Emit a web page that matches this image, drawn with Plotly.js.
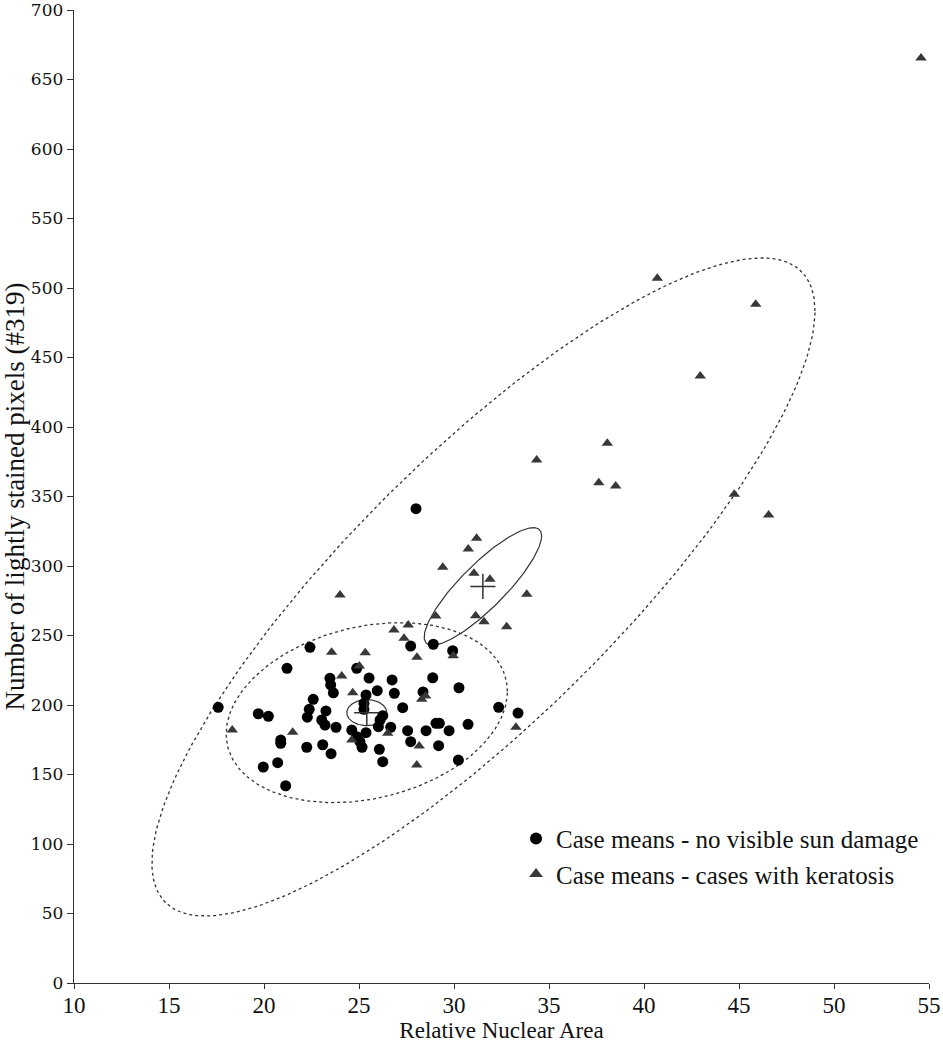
<!DOCTYPE html>
<html>
<head>
<meta charset="utf-8">
<script src="https://cdn.plot.ly/plotly-3.0.1.min.js"></script>
<style>
  html, body { margin: 0; padding: 0; background: #fff; }
  #myDiv { width: 943px; height: 1050px; }
</style>
</head>
<body>
<div id="myDiv"></div>
<script>
// Case means - no visible sun damage (relative nuclear area, lightly stained pixels)
const normalX = [22.42, 21.21, 24.88, 23.47, 25.53, 26.74, 23.51, 23.65, 25.96, 26.86,
                 25.37, 28.88, 30.26, 28.37, 22.59, 25.26, 25.26, 17.59, 19.70, 20.23,
                 22.38, 22.28, 23.26, 23.04, 23.21, 23.79, 27.30, 26.25, 26.11, 26.02,
                 26.67, 24.62, 25.37, 24.88, 25.05, 25.16, 27.56, 28.53, 29.05, 29.23,
                 29.74, 30.74, 32.35, 20.88, 20.88, 22.25, 23.09, 23.53, 27.72, 29.19,
                 26.07, 26.25, 30.23, 19.96, 20.72, 21.14, 27.72, 28.91, 29.93, 33.37,
                 28.00];
const normalY = [241.5, 226.4, 226.4, 219.2, 219.4, 218.0, 214.4, 208.8, 210.3, 208.4,
                 207.2, 219.6, 212.4, 209.4, 204.1, 201.2, 196.9, 198.3, 193.7, 191.9,
                 196.9, 191.2, 195.7, 189.2, 185.6, 184.0, 198.1, 192.3, 189.2, 184.4,
                 184.0, 182.0, 180.1, 177.2, 173.6, 169.6, 181.5, 181.5, 186.8, 186.8,
                 181.5, 186.1, 198.3, 174.8, 172.4, 169.6, 171.4, 165.0, 173.6, 170.7,
                 168.1, 159.2, 160.4, 155.4, 158.5, 141.9, 242.4, 243.7, 239.1, 194.2,
                 341.2];

// Case means - cases with keratosis
const keratosisX = [26.84, 27.59, 27.37, 31.58, 32.77, 23.56, 25.33, 25.02, 24.09, 24.67,
                    28.05, 29.96, 28.30, 28.51, 18.33, 21.51, 26.51, 24.62, 28.17, 28.04,
                    33.26, 31.19, 30.75, 29.41, 31.05, 31.89, 24.00, 33.83, 29.04, 31.14,
                    40.70, 45.88, 42.96, 38.07, 34.35, 37.62, 38.51, 44.75, 46.56, 54.58];
const keratosisY = [254.0, 257.6, 248.0, 259.9, 256.3, 237.9, 237.6, 228.1, 220.9, 208.8,
                    234.3, 235.5, 204.1, 206.5, 182.0, 180.4, 179.6, 174.8, 170.5, 156.8,
                    184.0, 319.9, 312.2, 299.1, 294.7, 290.4, 279.1, 279.6, 264.0, 264.2,
                    507.0, 488.3, 436.7, 388.3, 376.3, 359.9, 357.6, 351.6, 336.7, 665.5];

// Group means (marked with +)
const meanX = [25.41, 31.52];
const meanY = [194.5, 285.3];

// Ellipses: centre, half-width along x, and y offsets (cos / sin terms)
const ellCx   = [31.55, 25.41, 25.41, 31.52];
const ellCy   = [284.9, 194.5, 194.5, 285.3];
const ellW    = [17.45, 7.40, 1.05, 3.09];
const ellYcos = [198.6, 15.3, 0.0, 36.3];
const ellYsin = [128.8, 62.9, 9.35, 21.7];
const ellDash = ['dot', 'dot', 'solid', 'solid'];

const ink = '#333333';
const data = [];

// ellipse outlines
ellCx.forEach((cx, i) => {
    const xs = [], ys = [];
    for (let k = 0; k <= 240; k++) {
        const t = 2 * Math.PI * k / 240;
        xs.push(cx + ellW[i] * Math.cos(t));
        ys.push(ellCy[i] + ellYcos[i] * Math.cos(t) + ellYsin[i] * Math.sin(t));
    }
    data.push({
        x: xs, y: ys, type: 'scatter', mode: 'lines', showlegend: false, hoverinfo: 'skip',
        line: { color: ink, width: ellDash[i] === 'dot' ? 1.3 : 1.2, dash: ellDash[i] }
    });
});

data.push({
    x: normalX, y: normalY, type: 'scatter', mode: 'markers',
    name: 'Case means - no visible sun damage',
    marker: { symbol: 'circle', size: 11, color: '#000000' }
});
data.push({
    x: keratosisX, y: keratosisY, type: 'scatter', mode: 'markers',
    name: 'Case means - cases with keratosis',
    marker: { symbol: 'triangle-up', size: 10, color: '#383838' }
});
data.push({
    x: meanX, y: meanY, type: 'scatter', mode: 'markers', showlegend: false,
    marker: { symbol: 'cross-thin-open', size: 18, color: ink, line: { color: ink, width: 1.5 } }
});

const layout = {
    width: 943,
    height: 1050,
    margin: { l: 74, r: 14, t: 10, b: 67 },
    paper_bgcolor: '#fff',
    plot_bgcolor: '#fff',
    font: { family: 'Liberation Serif, serif', color: '#111' },
    xaxis: {
        range: [10, 55],
        tickvals: [10, 15, 20, 25, 30, 35, 40, 45, 50, 55],
        showgrid: false, zeroline: false,
        showline: true, linecolor: ink, linewidth: 1.3,
        ticks: 'outside', ticklen: 5, tickcolor: ink,
        ticklabeloverflow: 'allow', ticklabelstandoff: -4,
        tickfont: { family: 'Liberation Serif, serif', size: 23, color: '#111' },
        title: { text: 'Relative Nuclear Area', font: { family: 'Liberation Serif, serif', size: 23 }, standoff: 0 }
    },
    yaxis: {
        range: [0, 700],
        tickvals: [0, 50, 100, 150, 200, 250, 300, 350, 400, 450, 500, 550, 600, 650, 700],
        showgrid: false, zeroline: false,
        showline: true, linecolor: ink, linewidth: 1.3,
        ticks: 'outside', ticklen: 6, tickcolor: ink,
        ticklabeloverflow: 'allow',
        tickfont: { family: 'DejaVu Serif, serif', size: 17, color: '#111' },
        title: { text: 'Number of lightly stained pixels (#319)', font: { family: 'Liberation Serif, serif', size: 27 }, standoff: 6 }
    },
    legend: {
        x: 0.517, y: 0.172, xanchor: 'left', yanchor: 'top',
        bgcolor: 'rgba(0,0,0,0)',
        font: { family: 'Liberation Serif, serif', size: 25, color: '#111' },
        itemsizing: 'constant', tracegroupgap: 0, itemwidth: 30
    }
};

Plotly.newPlot('myDiv', data, layout, { displayModeBar: false, staticPlot: true });
</script>
</body>
</html>
